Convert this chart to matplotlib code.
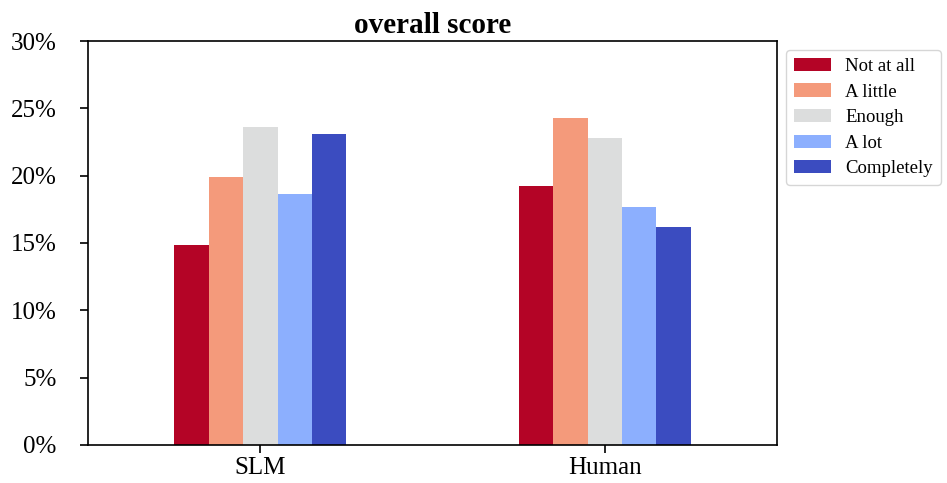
import numpy as np
import pandas as pd
import matplotlib
matplotlib.use("Agg")
import matplotlib.pyplot as plt
from matplotlib.ticker import PercentFormatter

plt.rcParams['font.family'] = ['Liberation Serif', 'DejaVu Serif']

# percent of answers per level
groups = ['SLM', 'Human']
levels = ['Not at all', 'A little', 'Enough', 'A lot', 'Completely']
slm = [14.85, 19.9, 23.6, 18.6, 23.1]
human = [19.2, 24.3, 22.8, 17.7, 16.2]

df = pd.DataFrame([slm, human], index=groups, columns=levels)

fig, ax = plt.subplots(figsize=(9.47, 4.83), dpi=100)
df.plot.bar(ax=ax, colormap='coolwarm_r', rot=0, width=0.5)

ax.set_ylim(0, 30)
ax.yaxis.set_major_formatter(PercentFormatter(decimals=0))
ax.tick_params(axis='both', labelsize=18, length=5.5, width=1.2)
ax.tick_params(axis='y', pad=17)
for s in ax.spines.values():
    s.set_linewidth(1.2)
ax.set_title("overall score", fontsize=21, fontweight='bold', pad=6)
ax.legend(loc='upper left', bbox_to_anchor=(1.0, 1.0), fontsize=13.5,
          labelspacing=0.45, handlelength=2.0, handletextpad=0.75)

plt.subplots_adjust(left=0.093, right=0.8205, top=0.915, bottom=0.079)
plt.savefig("out.png")
